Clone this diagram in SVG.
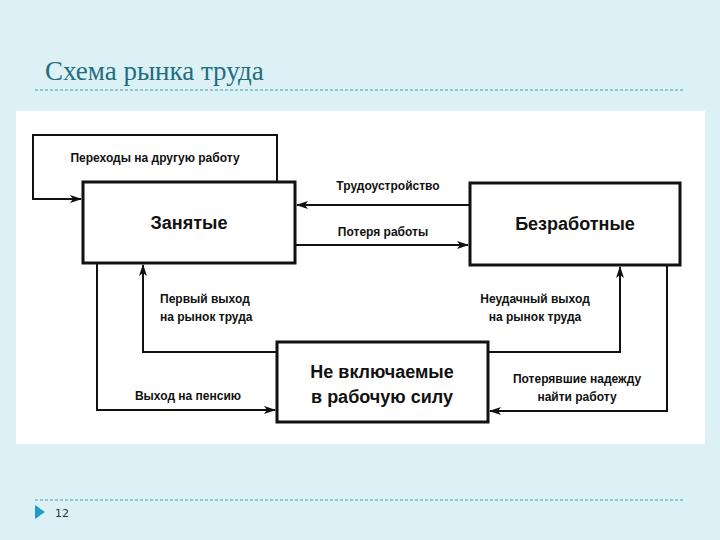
<svg xmlns="http://www.w3.org/2000/svg" width="720" height="540" viewBox="0 0 720 540">
<defs>
<marker id="a" markerWidth="12" markerHeight="8" refX="11" refY="4" orient="auto" markerUnits="userSpaceOnUse"><path d="M0,0 L12,4 L0,8 L3,4 Z" fill="#111"/></marker>
<style>
.box{fill:#fff;stroke:#111;stroke-width:3}
.ln{fill:none;stroke:#111;stroke-width:2}
.lb{font-family:"Liberation Sans",Arial,sans-serif;font-size:12px;font-weight:bold;fill:#111}
.bt{font-family:"Liberation Sans",Arial,sans-serif;font-size:18px;font-weight:bold;fill:#111;text-anchor:middle}
</style>
</defs>
<rect width="720" height="540" fill="#DCF1F5"/>
<text x="45" y="80" font-family="Liberation Serif,serif" font-size="27" fill="#1F6E80">Схема рынка труда</text>
<line x1="35" y1="90" x2="685" y2="90" stroke="#4A9BB0" stroke-dasharray="3,2"/>
<rect x="16" y="111" width="689" height="333" fill="#fff"/>
<g id="connectors">
<path class="ln" d="M277,182 V135 H33 V199 H81" marker-end="url(#a)"/>
<path class="ln" d="M470,205 H297" marker-end="url(#a)"/>
<path class="ln" d="M295,245 H468" marker-end="url(#a)"/>
<path class="ln" d="M97,263 V410 H275" marker-end="url(#a)"/>
<path class="ln" d="M277,352 H143 V265" marker-end="url(#a)"/>
<path class="ln" d="M488,352 H620 V267" marker-end="url(#a)"/>
<path class="ln" d="M667,265 V411 H490" marker-end="url(#a)"/>
<text class="lb" x="155" y="162" text-anchor="middle">Переходы на другую работу</text>
<text class="lb" x="388" y="190" text-anchor="middle">Трудоустройство</text>
<text class="lb" x="383" y="236" text-anchor="middle">Потеря работы</text>
<text class="lb" x="160" y="303">Первый выход</text>
<text class="lb" x="160" y="321">на рынок труда</text>
<text class="lb" x="535" y="303" text-anchor="middle">Неудачный выход</text>
<text class="lb" x="535" y="321" text-anchor="middle">на рынок труда</text>
<text class="lb" x="188" y="400" text-anchor="middle">Выход на пенсию</text>
<text class="lb" x="577" y="383" text-anchor="middle">Потерявшие надежду</text>
<text class="lb" x="577" y="401" text-anchor="middle">найти работу</text>
</g>
<g id="employed"><rect class="box" x="83" y="182" width="212" height="81"/><text class="bt" x="189" y="229">Занятые</text></g>
<g id="unemployed"><rect class="box" x="470" y="183" width="210" height="82"/><text class="bt" x="575" y="230">Безработные</text></g>
<g id="notinlabor"><rect class="box" x="277" y="342" width="211" height="80"/><text class="bt" x="382" y="378">Не включаемые</text><text class="bt" x="382" y="403">в рабочую силу</text></g>
<line x1="35" y1="500" x2="685" y2="500" stroke="#4A9BB0" stroke-dasharray="3,2"/>
<path d="M35,505 L45,512 L35,519 Z" fill="#1E9CC4"/>
<text x="55" y="517" font-family="DejaVu Sans,sans-serif" font-size="11" fill="#333">12</text>
</svg>
